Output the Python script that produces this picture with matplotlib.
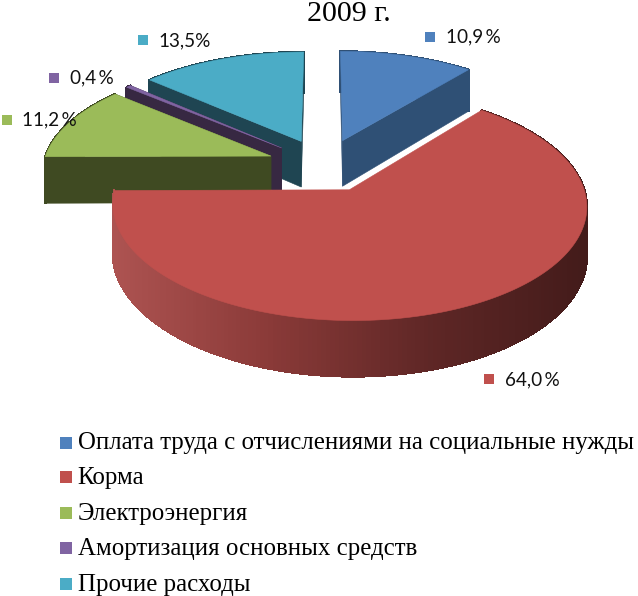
import numpy as np
import matplotlib
matplotlib.use("Agg")
import matplotlib.pyplot as plt
from matplotlib.collections import PolyCollection
from matplotlib.colors import LinearSegmentedColormap, to_rgb

categories = ["Оплата труда с отчислениями на социальные нужды", "Корма", "Электроэнергия",
              "Амортизация основных средств", "Прочие расходы"]
values = [10.9, 64.0, 11.2, 0.4, 13.5]
value_labels = ["10,9\u2009%", "64,0\u2009%", "11,2\u2009%", "0,4\u2009%", "13,5%"]
title = "2009 г."

colors = ["#4f81bd", "#c0504d", "#9bbb59", "#8064a2", "#4bacc6"]
wall_colors = ["#2f5075", "#a85250", "#3f4a22", "#372842", "#1f4552"]
label_pos = [(429.5, 36.5), (489, 379), (6.5, 119.5), (54, 77.5), (142.5, 40)]
legend_y = [442.5, 477, 513, 548, 583.5]

# pie "camera", pixels
CX, CY = 324, 165
R = 228
TILT = 0.468
PERSP = 0.13
DEPTH = 47
EXPLODE = 0.25


def project(X, Y, z=0.0):
	s = 1 / (1 + PERSP * Y)
	return CX + R * X * s, CY - R * TILT * Y * s + z * DEPTH * s


fig = plt.figure(figsize=(6.38, 5.96), dpi=100)
ax = fig.add_axes([0, 0, 1, 1])
ax.set_xlim(0, 638)
ax.set_ylim(596, 0)
ax.axis("off")

fracs = np.array(values) / sum(values) * 2 * np.pi
ends = np.cumsum(fracs)
starts = ends - fracs
red_wall = LinearSegmentedColormap.from_list("rw", ["#ad5351", "#8a3a38", "#5f2726", "#431b1a"])


def draw_slice(i):
	a0, a1 = starts[i], ends[i]
	mid = (a0 + a1) / 2
	ox, oy = EXPLODE * np.sin(mid), EXPLODE * np.cos(mid)
	ang = np.linspace(a0, a1, max(int((a1 - a0) * 60), 8))
	X, Y = ox + np.sin(ang), oy + np.cos(ang)
	tx, ty = project(X, Y)
	bx, by = project(X, Y, 1)
	# outer wall
	quads = [[(tx[j], ty[j]), (tx[j + 1], ty[j + 1]), (bx[j + 1], by[j + 1]), (bx[j], by[j])]
			 for j in range(len(ang) - 1)]
	if i == 1:
		lo, hi = tx.min(), tx.max()
		cols = [red_wall((q[0][0] - lo) / (hi - lo)) for q in quads]
	else:
		cols = [to_rgb(wall_colors[i])] * len(quads)
	ax.add_collection(PolyCollection(quads, facecolors=cols, edgecolors=cols, linewidths=1.0,
									 antialiaseds=False))
	ax0, ay0 = project(ox, oy)
	ax1, ay1 = project(ox, oy, 1)
	# cut walls, the big slice hides its own
	if i != 1:
		for k in (0, -1):
			ax.fill([ax0, tx[k], bx[k], ax1], [ay0, ty[k], by[k], ay1], color=wall_colors[i], lw=0.4)
	# top face
	ax.fill(np.r_[ax0, tx], np.r_[ay0, ty], color=colors[i], lw=0.4)


for i in [4, 3, 2, 0, 1]:
	draw_slice(i)

for i, (px, py) in enumerate(label_pos):
	ax.scatter([px], [py], marker="s", s=62, color=colors[i], linewidths=0)
	ax.text(px + 16, py + 0.5, value_labels[i], family=["Lato", "DejaVu Sans"], fontsize=13.6,
			color="#111111", ha="left", va="center")

for i, y in enumerate(legend_y):
	ax.scatter([66], [y], marker="s", s=72, color=colors[i], linewidths=0)
	ax.text(77.5, y + 1, categories[i], family="Liberation Serif", fontsize=17.9, color="black",
			ha="left", va="center")

ax.text(349, 21, title, family="Liberation Serif", fontsize=21.6, color="black", ha="center", va="baseline")

fig.savefig("out.png", dpi=100)
